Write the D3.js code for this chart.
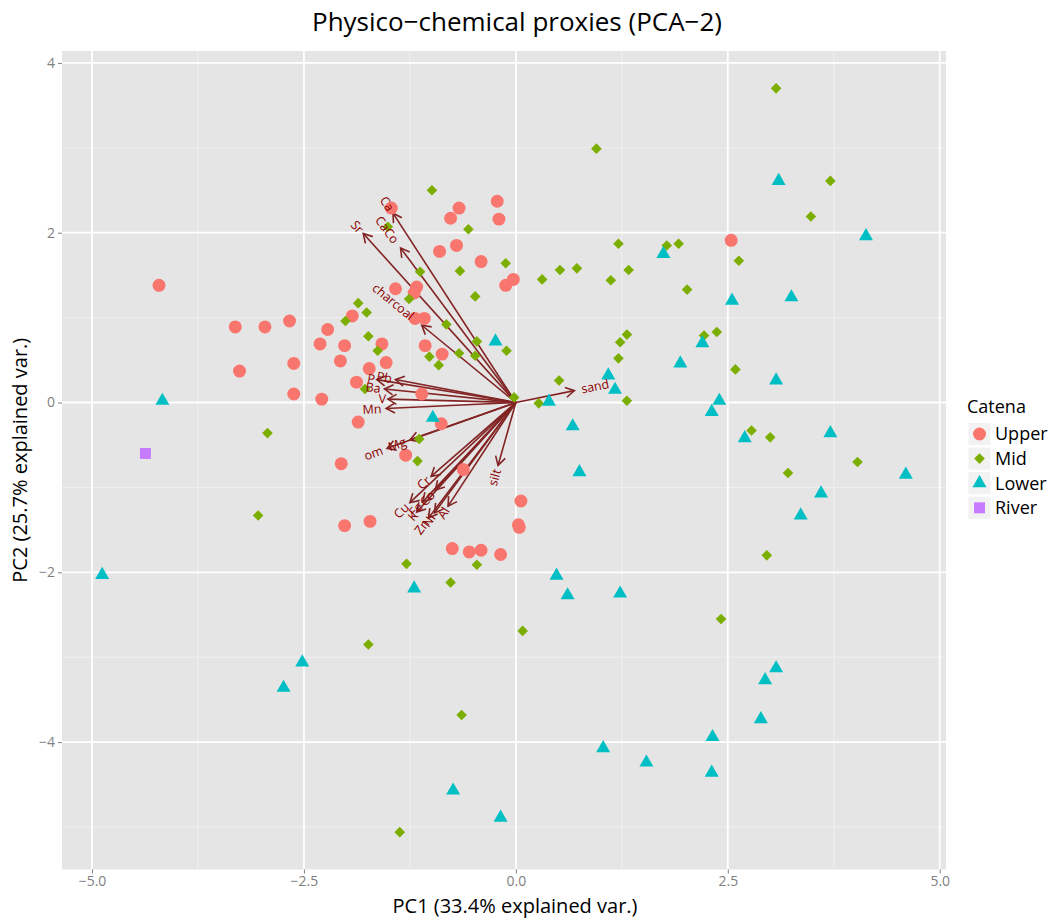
<!DOCTYPE html>
<html><head><meta charset="utf-8">
<script src="https://cdn.jsdelivr.net/npm/d3@7"></script>
<style>
body{margin:0;background:#fff;}
text{font-family:"Open Sans",sans-serif;}
</style>
</head><body>
<svg id="chart" width="1056" height="920"></svg>
<script>
// ---------------- data ----------------
const upperX = [-4.21,-3.31,-2.96,-2.67,-3.26,-2.62,-2.62,-2.29,-2.22,-2.31,-2.02,-2.07,-1.93,-1.88,-1.58,-1.53,-1.73,-1.86,-1.47,-1.42,-1.17,-1.20,-1.19,-1.08,-1.07,-0.87,-1.11,-0.88,-0.90,-0.70,-0.77,-0.67,-0.41,-0.22,-0.20,-0.12,-0.03,-2.06,-1.30,-0.62,0.06,-2.02,-1.72,0.03,0.04,-0.75,-0.55,-0.41,-0.18,2.54];
const upperY = [1.38,0.89,0.89,0.96,0.37,0.46,0.10,0.04,0.86,0.69,0.67,0.49,1.02,0.24,0.69,0.47,0.40,-0.23,2.29,1.34,1.36,1.29,0.99,0.99,0.67,0.57,0.10,-0.25,1.78,1.85,2.17,2.29,1.66,2.37,2.16,1.38,1.45,-0.72,-0.62,-0.79,-1.16,-1.45,-1.40,-1.44,-1.47,-1.72,-1.76,-1.74,-1.79,1.91];
const midX = [-0.99,-1.51,-0.56,-1.13,-0.66,-0.12,-0.48,-1.26,-1.86,-1.76,-2.01,-0.82,-1.74,-1.63,-1.02,-0.91,-0.67,-0.46,-0.48,-0.11,-1.78,-0.02,-2.93,-1.14,-1.16,-3.04,-1.29,-0.46,-0.77,0.08,-1.74,-0.64,-1.37,3.07,0.95,3.71,3.48,1.21,1.78,1.92,2.63,0.31,0.52,0.72,1.12,1.33,2.02,1.31,1.23,2.22,2.37,1.21,2.59,0.51,0.27,1.31,2.78,3.00,4.03,3.21,2.96,2.42];
const midY = [2.50,2.07,2.04,1.54,1.55,1.64,1.25,1.22,1.17,1.06,0.96,0.92,0.78,0.61,0.54,0.44,0.58,0.72,0.55,0.61,0.16,0.06,-0.36,-0.43,-0.69,-1.33,-1.90,-1.91,-2.12,-2.69,-2.85,-3.68,-5.06,3.70,2.99,2.61,2.19,1.87,1.85,1.87,1.67,1.45,1.56,1.58,1.44,1.56,1.33,0.80,0.71,0.79,0.83,0.52,0.39,0.26,-0.01,0.02,-0.33,-0.41,-0.70,-0.83,-1.80,-2.55];
const lowerX = [-4.17,-0.24,-0.98,-4.88,-1.20,-2.52,-2.74,-0.74,-0.18,3.10,4.13,1.74,2.55,3.25,2.20,1.94,3.07,1.09,1.17,0.39,2.40,2.31,0.67,2.70,3.71,0.75,4.60,3.60,3.36,0.48,0.61,1.23,3.07,2.94,2.89,2.32,1.03,1.54,2.31];
const lowerY = [0.02,0.72,-0.18,-2.03,-2.19,-3.06,-3.36,-4.57,-4.89,2.61,1.96,1.75,1.20,1.24,0.70,0.46,0.26,0.32,0.15,0.01,0.02,-0.11,-0.28,-0.42,-0.36,-0.82,-0.85,-1.07,-1.33,-2.04,-2.27,-2.25,-3.13,-3.27,-3.73,-3.94,-4.07,-4.24,-4.36];
const riverX = [-4.37];
const riverY = [-0.60];

const varNames = ["Ca","CaCo","Sr","charcoal","P","Pb","Ba","V","Mn","Mg","om","Cr","Co","Cu","Fe","K","Zn","Ni","Al","silt","sand"];
const varX = [-1.45,-1.36,-1.80,-1.11,-1.64,-1.42,-1.55,-1.51,-1.53,-1.25,-1.52,-1.00,-0.95,-1.25,-1.10,-1.17,-1.03,-0.96,-0.80,-0.21,0.69];
const varY = [2.23,1.82,1.99,0.91,0.27,0.27,0.16,0.04,-0.07,-0.44,-0.54,-0.87,-1.03,-1.18,-1.17,-1.29,-1.36,-1.30,-1.22,-0.74,0.14];

const xTickValues = [-5,-2.5,0,2.5,5];
const xTickLabels = ["\u22125.0","\u22122.5","0.0","2.5","5.0"];
const yTickValues = [-4,-2,0,2,4];
const yTickLabels = ["\u22124","\u22122","0","2","4"];
const xMinor = [-3.75,-1.25,1.25,3.75];
const yMinor = [-5,-3,-1,1,3];

const groupNames = ["Upper","Mid","Lower","River"];
const groupColors = ["#F8766D","#7CAE00","#00BFC4","#C77CFF"];

// ---------------- layout ----------------
const svg = d3.select("#chart");
const P = {left:62, right:946, top:51, bottom:869.5};
const x = d3.scaleLinear().domain([-5.354,5.074]).range([P.left,P.right]);
const y = d3.scaleLinear().domain([-5.50,4.14]).range([P.bottom,P.top]);

svg.append("rect").attr("width",1056).attr("height",920).attr("fill","#fff");
svg.append("rect").attr("x",P.left).attr("y",P.top)
  .attr("width",P.right-P.left).attr("height",P.bottom-P.top).attr("fill","#E5E5E5");

const grid = svg.append("g");
xMinor.forEach(v=>grid.append("line").attr("x1",x(v)).attr("x2",x(v)).attr("y1",P.top).attr("y2",P.bottom).attr("stroke","#F2F2F2").attr("stroke-width",0.9));
yMinor.forEach(v=>grid.append("line").attr("y1",y(v)).attr("y2",y(v)).attr("x1",P.left).attr("x2",P.right).attr("stroke","#F2F2F2").attr("stroke-width",0.9));
xTickValues.forEach(v=>grid.append("line").attr("x1",x(v)).attr("x2",x(v)).attr("y1",P.top).attr("y2",P.bottom).attr("stroke","#fff").attr("stroke-width",1.8));
yTickValues.forEach(v=>grid.append("line").attr("y1",y(v)).attr("y2",y(v)).attr("x1",P.left).attr("x2",P.right).attr("stroke","#fff").attr("stroke-width",1.8));

// axes
const xAxis = d3.axisBottom(x).tickValues(xTickValues).tickSize(4).tickPadding(3)
  .tickFormat((d,i)=>xTickLabels[i]);
const gx = svg.append("g").attr("transform",`translate(0,${P.bottom})`).call(xAxis);
const yAxis = d3.axisLeft(y).tickValues(yTickValues).tickSize(4).tickPadding(3)
  .tickFormat((d,i)=>yTickLabels[i]);
const gy = svg.append("g").attr("transform",`translate(${P.left},0)`).call(yAxis);
[gx,gy].forEach(g=>{
  g.select(".domain").remove();
  g.selectAll(".tick line").attr("stroke","#7F7F7F").attr("stroke-width",1);
  g.selectAll(".tick text").attr("fill","#7F7F7F").style("font-size","14px").style("font-family","'Open Sans',sans-serif");
});

// arrows (segments)
const ox = x(0), oy = y(0);
const arrowColor = "#832424";
const ag = svg.append("g");
varNames.forEach((n,i)=>{
  const tx = x(varX[i]), ty = y(varY[i]);
  ag.append("line").attr("x1",ox).attr("y1",oy).attr("x2",tx).attr("y2",ty)
    .attr("stroke",arrowColor).attr("stroke-width",1.6);
  const ang = Math.atan2(ty-oy, tx-ox);
  const L = 10, a30 = Math.PI/6;
  const p1 = [tx - L*Math.cos(ang-a30), ty - L*Math.sin(ang-a30)];
  const p2 = [tx - L*Math.cos(ang+a30), ty - L*Math.sin(ang+a30)];
  ag.append("path").attr("d",`M${p1[0]},${p1[1]}L${tx},${ty}L${p2[0]},${p2[1]}`)
    .attr("fill","none").attr("stroke",arrowColor).attr("stroke-width",1.6);
});

// points
const shapes = {
  Upper: d3.symbol().type(d3.symbolCircle).size(Math.PI*42)(),
  Mid: "M0,-5.3L5.3,0L0,5.3L-5.3,0Z",
  Lower: "M0,-8.1L7,4.05L-7,4.05Z",
  River: "M-5.5,-5.5h11v11h-11Z"
};
const groups = [
  {name:"Upper", xs:upperX, ys:upperY},
  {name:"Mid", xs:midX, ys:midY},
  {name:"Lower", xs:lowerX, ys:lowerY},
  {name:"River", xs:riverX, ys:riverY}
];
const pg = svg.append("g");
groups.forEach((g,gi)=>{
  g.xs.forEach((v,i)=>{
    pg.append("path").attr("d",shapes[g.name])
      .attr("transform",`translate(${x(v)},${y(g.ys[i])})`)
      .attr("fill",groupColors[gi]);
  });
});

// variable labels (ggbiplot rule: anchored at tip, hjust = (1-1.5*sign(x))/2, angle = atan(y/x))
const lg = svg.append("g");
varNames.forEach((n,i)=>{
  const tx = x(varX[i]), ty = y(varY[i]);
  const angDeg = Math.atan((oy-ty)/(tx-ox))*180/Math.PI;
  const t = lg.append("text").text(n).attr("fill","#8B0000").style("font-size","12.5px")
    .attr("dy","0.35em");
  const w = t.node().getComputedTextLength();
  const hj = (1 - 1.5*Math.sign(varX[i]))/2;
  t.attr("x", -hj*w).attr("transform",`translate(${tx},${ty}) rotate(${-angDeg})`);
});

// titles
svg.append("text").text("Physico\u2212chemical proxies (PCA\u22122)")
  .attr("x",517).attr("y",31).attr("text-anchor","middle")
  .style("font-size","26px").attr("fill","#000");
svg.append("text").text("PC1 (33.4% explained var.)")
  .attr("x",515).attr("y",913).attr("text-anchor","middle")
  .style("font-size","20px").attr("fill","#000");
svg.append("text").text("PC2 (25.7% explained var.)")
  .attr("transform",`translate(27,${(P.top+P.bottom)/2}) rotate(-90)`).attr("text-anchor","middle")
  .style("font-size","20px").attr("fill","#000");

// legend
const leg = svg.append("g");
leg.append("text").text("Catena").attr("x",967).attr("y",413).style("font-size","18px").attr("fill","#000");
groupNames.forEach((n,i)=>{
  const cy = 434 + i*24.6;
  leg.append("rect").attr("x",968).attr("y",cy-11.5).attr("width",23).attr("height",23)
    .attr("fill","#F2F2F2").attr("stroke","#fff").attr("stroke-width",0.8);
  leg.append("path").attr("d",shapes[n]).attr("transform",`translate(979.5,${cy})`).attr("fill",groupColors[i]);
  leg.append("text").text(n).attr("x",995).attr("y",cy).attr("dy","0.36em")
    .style("font-size","18px").attr("fill","#000");
});
</script>
</body></html>
